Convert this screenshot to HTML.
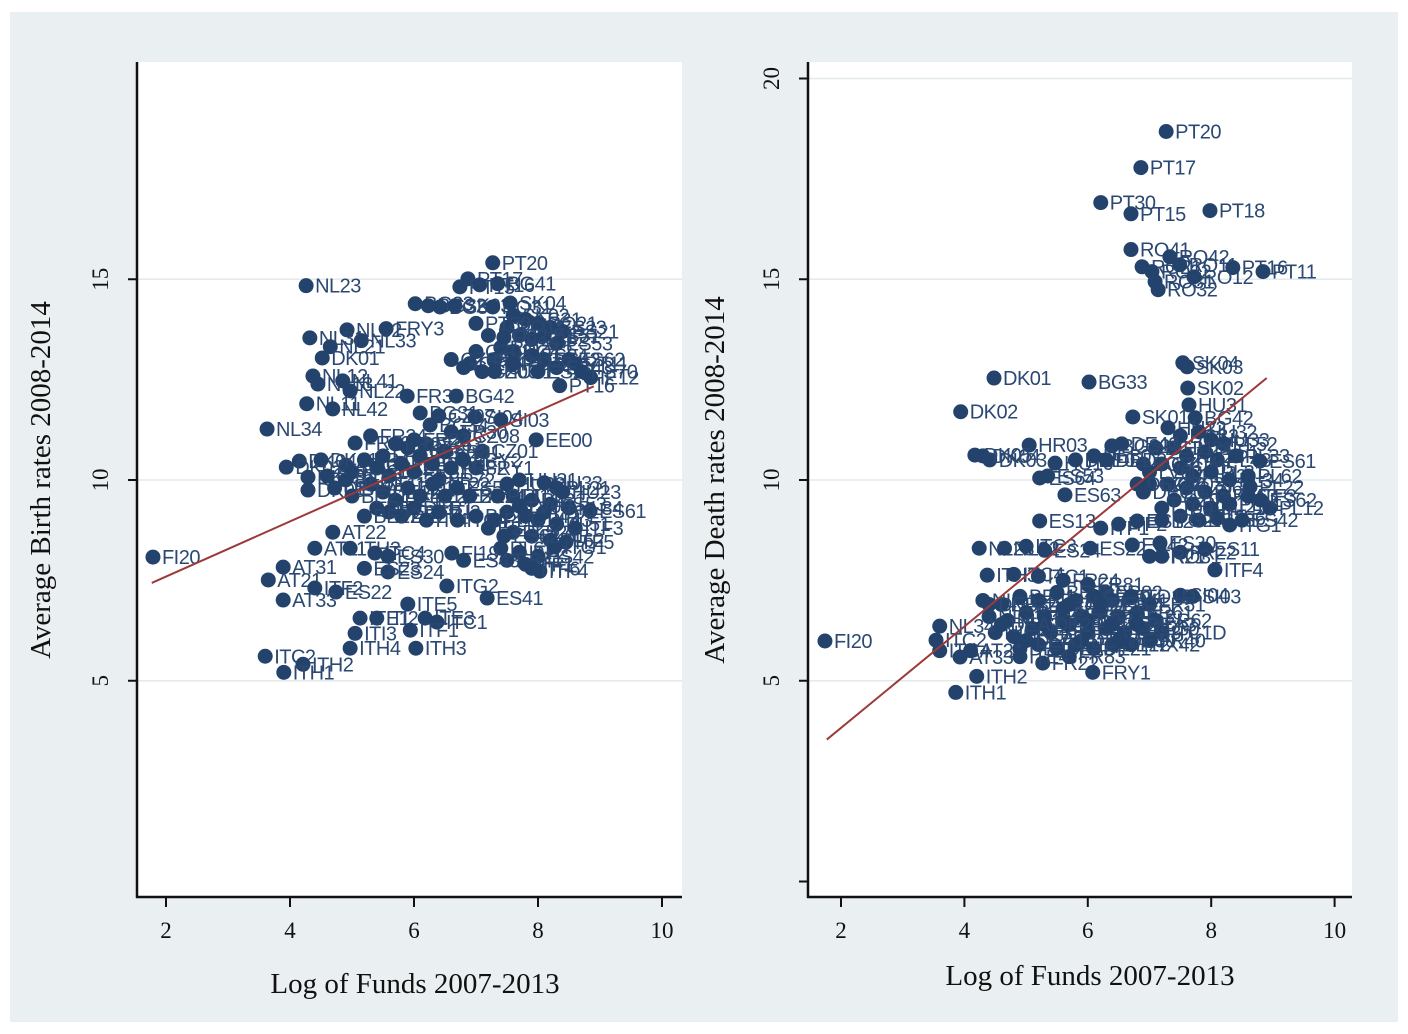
<!DOCTYPE html>
<html><head><meta charset="utf-8"><style>
html,body{margin:0;padding:0;background:#fff;}
svg{display:block;}
.tl{font-family:"Liberation Serif",serif;font-size:23px;fill:#111;}
.ti{font-family:"Liberation Serif",serif;font-size:29px;fill:#111;}
.pl{font-family:"Liberation Sans",sans-serif;font-size:20px;fill:#2a4872;letter-spacing:-0.5px;}
</style></head><body>
<svg id="c" width="1408" height="1034" xmlns="http://www.w3.org/2000/svg">
<rect x="10" y="12" width="1388" height="1010" fill="#eaeff2"/>
<rect x="137" y="62" width="545" height="835" fill="#fff"/>
<rect x="808" y="62" width="544" height="835" fill="#fff"/>
<g id="left"></g>
<g id="right"></g>
<text class="ti" transform="translate(50,480) rotate(-90)" text-anchor="middle">Average Birth rates 2008-2014</text>
<text class="ti" x="415" y="993" text-anchor="middle">Log of Funds 2007-2013</text>
<text class="ti" transform="translate(724,480) rotate(-90)" text-anchor="middle">Average Death rates 2008-2014</text>
<text class="ti" x="1090" y="985" text-anchor="middle">Log of Funds 2007-2013</text>
</svg>
<script>
const xTicks=[2,4,6,8,10];
const leftYTicks=[5,10,15];
const rightYTicks=[0,5,10,15,20];
const rightYTickLabels=["","5","10","15","20"];
const leftFit=[6.22,0.687];
const rightFit=[1.30,1.263];
const fitRange=[1.77,8.9];

const leftX=[1.79,4.26,7.27,6.87,6.74,7.06,7.35,6.02,6.23,6.42,6.66,7.27,7.55,4.92,5.55,
4.32,5.15,4.65,4.52,4.37,4.45,4.85,4.97,5.89,6.68,4.27,4.69,3.63,7.10,
7.6,7.8,8.0,8.2,8.4,7.5,7.7,7.9,8.1,8.3,7.4,7.6,7.9,8.1,8.5,8.6,8.3,7.3,7.0,6.9,6.6,6.8,7.1,7.3,7.6,8.0,8.35,8.85,7.2,7.0,7.45,8.7,
7.97,6.1,6.26,6.98,7.4,6.4,6.6,5.05,4.15,3.94,4.29,4.29,4.9,4.6,4.72,5.0,4.5,5.3,6.8,7.0,
5.2,5.4,5.5,5.6,5.8,5.9,6.0,6.1,6.2,6.3,6.4,6.5,6.6,6.8,5.3,5.5,5.7,5.9,6.1,6.3,6.5,6.7,5.4,5.6,5.8,6.0,6.2,6.4,6.7,5.0,5.2,4.9,6.9,7.0,5.7,6.0,
7.5,7.7,8.1,8.3,7.6,7.9,8.2,8.5,8.84,7.5,7.8,8.0,8.3,8.6,7.6,7.9,8.2,8.45,7.4,7.7,8.0,8.27,7.5,7.8,8.03,7.9,7.35,7.3,7.2,6.61,6.8,7.45,8.1,7.7,8.4,
4.69,4.4,4.97,5.37,5.58,3.89,3.65,4.40,4.74,3.89,5.58,6.53,7.18,5.9,5.13,5.40,6.18,6.37,5.94,5.05,4.97,6.03,3.60,4.21,3.90,5.2];
const leftY=[8.08,14.84,15.41,15.01,14.81,14.86,14.89,14.39,14.34,14.31,14.34,14.31,14.41,13.74,13.77,
13.54,13.47,13.32,13.04,12.59,12.39,12.47,12.22,12.09,12.09,11.9,11.77,11.27,10.72,
14.1,14.0,13.9,13.8,13.7,13.8,13.6,13.5,13.6,13.4,13.3,13.2,13.1,13.0,13.0,12.9,12.8,13.0,13.2,12.9,13.0,12.8,12.7,12.7,12.9,12.7,12.35,12.55,13.6,13.9,13.55,12.7,
11.0,11.67,11.37,11.57,11.5,11.6,11.2,10.92,10.47,10.32,10.07,9.75,10.37,10.1,9.8,10.2,10.5,11.1,11.1,10.3,
10.5,10.3,10.6,10.1,10.4,10.8,10.2,10.6,10.9,10.4,10.0,10.7,10.3,10.5,9.9,9.7,9.5,9.8,9.6,9.9,9.6,9.8,9.3,9.2,9.1,9.3,9.0,9.2,9.0,9.6,9.1,10.0,9.6,9.1,10.9,11.0,
9.9,10.0,9.93,9.8,9.6,9.5,9.4,9.3,9.23,9.2,9.1,9.0,8.9,8.8,8.7,8.6,8.5,8.45,8.3,8.2,8.1,8.33,8.0,7.9,7.73,7.8,9.6,9.0,8.8,8.18,8.0,8.6,9.2,9.35,9.7,
8.70,8.30,8.3,8.18,8.1,7.83,7.51,7.31,7.21,7.01,7.71,7.36,7.06,6.91,6.56,6.56,6.56,6.46,6.26,6.18,5.81,5.81,5.61,5.41,5.21,7.8];
const leftLab=["FI20","NL23","PT20","PT17","PT15","PT16","BG41","BG33","BG32","BG30","SK03","RO31","SK04","NL32","FRY3",
"NL31","NL33","NL21","DK01","NL12","NL13","NL41","NL22","FR30","BG42","NL11","NL42","NL34","CZ01",
"SK02","ES31","RO21","ES23","ES21","RO11","SK01","ES52","ES51","ES53","RO22","RO12","ES24","ES42","ES62","PT11","ES43","RO41","CZ02","CZ04","CZ03","CZ05","CZ06","HU21","RO42","ES22","PT16","IE12","RO32","PT30","PL32","ES70",
"EE00","BG31","BG34","SI04","SI03","CZ07","FR30","FR10","DK04","DK02","DK03","DK05","AT13","DE50","DEA1","FR21","DK01","FR24","CZ08","FRY1",
"FR41","FR42","FR43","FR51","FR52","FR53","FR61","FR62","FR63","FR71","FR72","FR81","FR82","FRY2","DE11","DE12","DE13","DE14","DE21","DE22","DE23","ES52","DE25","DE26","DE27","DEB1","ITI4","ITI2","ITC4","BE21","BE22","BE23","BE24","BE25","FR22","FR23",
"HU32","HU31","HU33","PL21","PL22","PL31","ES53","PL34","ES61","PL41","PL42","PL43","PL51","ITF3","PL52","PL61","PL62","ITF5","PL63","ITF2","ES42","ITG1","ES41","ITF1","ITF4","ITF6","PL11","PL12","ES12","FI19","ES43","ES62","LT00","LV00","HU23",
"AT22","AT11","ITH3","ITC4","ES30","AT31","AT21","ITF2","ES22","AT33","ES24","ITG2","ES41","ITE5","ITE1","ITI2","ITE3","ITC1","ITF1","ITI3","ITH4","ITH3","ITC2","ITH2","ITH1","ES23"];

const rightX=[1.74,7.27,6.86,6.21,6.70,7.98,6.70,6.88,7.04,7.33,7.49,7.09,7.14,7.72,8.35,8.84,
7.54,7.61,7.62,4.48,6.02,3.94,6.73,7.64,7.74,
7.3,7.5,7.8,8.0,8.2,7.4,7.6,7.9,8.1,8.4,8.79,7.2,7.5,7.7,8.0,8.3,8.6,7.3,7.6,7.9,8.2,8.63,7.4,7.7,8.0,8.3,8.95,7.5,7.8,8.1,8.3,8.5,7.0,6.9,7.1,7.0,8.6,8.8,7.2,
5.05,6.39,6.55,4.17,4.41,4.30,5.47,5.8,6.1,6.3,5.63,5.22,5.35,6.8,6.9,5.22,6.21,6.5,6.80,7.2,
4.24,4.65,5.0,5.3,6.04,6.72,7.17,7.0,7.5,7.9,8.06,7.2,4.37,4.8,5.2,5.6,6.0,6.3,7.5,7.7,
4.3,4.6,4.9,5.2,5.5,5.8,6.1,6.4,6.7,7.0,
4.4,4.7,5.0,5.3,5.6,5.9,6.2,6.5,6.8,7.1,
4.5,4.8,5.1,5.4,5.7,6.0,6.3,6.6,6.9,7.2,
4.9,5.2,5.5,5.8,6.1,6.4,6.7,7.0,5.6,6.0,
6.4,5.3,5.9,6.5,5.0,4.6,6.8,5.7,6.2,4.4,
3.6,3.54,3.6,3.93,4.1,4.20,3.86,5.27,6.08,5.7,4.9];
const rightY=[5.99,18.68,17.78,16.91,16.63,16.71,15.74,15.31,15.19,15.56,15.36,14.94,14.74,15.06,15.29,15.19,
12.92,12.82,12.29,12.54,12.44,11.70,11.57,11.87,11.55,
11.3,11.1,11.2,11.0,10.9,10.8,10.6,10.7,10.5,10.6,10.47,10.4,10.3,10.1,10.2,10.0,10.1,9.9,9.8,9.7,9.6,9.83,9.5,9.4,9.3,9.4,9.30,9.1,9.0,9.05,8.88,9.0,9.9,10.4,10.8,10.2,9.6,9.5,9.3,
10.87,10.85,10.9,10.62,10.5,10.6,10.42,10.5,10.6,10.5,9.63,10.05,10.1,9.9,9.7,8.98,8.80,8.9,8.98,9.0,
8.30,8.3,8.35,8.25,8.3,8.38,8.43,8.1,8.2,8.28,7.76,8.1,7.63,7.65,7.6,7.5,7.4,7.2,7.13,7.1,
7.0,6.9,7.1,7.0,7.2,7.0,7.1,7.0,7.1,6.9,
6.6,6.5,6.7,6.6,6.8,6.6,6.7,6.6,6.7,6.5,
6.2,6.1,6.3,6.2,6.4,6.2,6.3,6.2,6.3,6.2,
5.8,5.9,5.8,5.9,5.8,5.9,5.9,6.0,6.5,6.5,
6.4,6.4,6.0,6.0,6.0,6.4,6.4,6.9,6.9,6.9,
6.36,6.01,5.75,5.59,5.75,5.11,4.71,5.44,5.21,5.6,5.6];
const rightLab=["FI20","PT20","PT17","PT30","PT15","PT18","RO41","RO21","RO22","RO42","RO11","RO31","RO32","RO12","PT16","PT11",
"SK04","SK03","SK02","DK01","BG33","DK02","SK01","HU31","BG42",
"HU22","BG32","HU32","HU33","PL52","HU21","HU23","PL51","PL43","PL33","ES61","CZ04","CZ05","PL42","PL31","PL34","PL62","CZ03","CZ06","PL41","PL63","PL22","CZ07","PL61","PL21","PL11","PL12","ES21","ES43","ITF6","ITG1","ES42","CZ02","BG34","BG31","LV00","ITF3","ES62","LT00",
"HR03","BG32","DE40","DK05","DK03","DK04","HU10","DEE0","DE80","DED2","ES63","ES64","ES53","DEG0","DEC0","ES13","ITF1","ITF2","ES12","ITG2",
"NL23","NL32","ITC3","ES24","ES22","ES42","ES30","FR21","FR22","ES11","ITF4","RO31","ITH3","ITC4","ITC1","FR24","FR81","FR82","SI04","SI03",
"NL41","NL42","BE21","BE22","BE23","FR10","FR30","FR41","ITD1D","FR51",
"NL31","NL33","BE24","BE25","FR42","FR43","FR52","FR53","FR61","FR62",
"NL34","NL22","BE31","BE32","FR63","FR71","FR72","FR83","FR30","ITC1D",
"DE11","DE12","DE13","DE14","DE21","DE22","FRX42","FR40","DE23","DE24",
"DE25","DE26","DE27","DE30","DEA1","DEA2","DEA3","DEB1","DEB2","DEB3",
"NL34","ITC2","ITC4","AT33","AT21","ITH2","ITH1","FR22","FRY1","FR83","ITE4"];

const NS="http://www.w3.org/2000/svg";
function mk(tag,attrs,parent){const e=document.createElementNS(NS,tag);for(const k in attrs)e.setAttribute(k,attrs[k]);parent.appendChild(e);return e;}

function panel(gid,x0,xs,xsArr,ysArr,labs,yTicks,yLabs,fit,right){
  const g=document.getElementById(gid);
  const sx=v=>x0+(v-2)*xs;
  const sy=v=>480-(v-10)*40.15;
  const axL=right?808:137, axR=right?1352:682;
  yTicks.forEach((t,i)=>{
    if(t>0){const gl=mk('line',{x1:axL,x2:axR,y1:sy(t),y2:sy(t),stroke:'#e2eaee','stroke-width':1.5},g);
    
    }
    const tk=mk('line',{x1:axL-9,x2:axL,y1:sy(t),y2:sy(t),stroke:'#111','stroke-width':2},g);
    
    
    const lab=yLabs[i];
    if(lab){const tx=mk('text',{class:'tl',transform:`translate(${axL-29},${sy(t)}) rotate(-90)`,'text-anchor':'middle'},g);
    tx.textContent=lab;
    
    }
  });
  xTicks.forEach(t=>{
    const tk=mk('line',{x1:sx(t),x2:sx(t),y1:897,y2:907,stroke:'#111','stroke-width':2},g);
    
    
    const tx=mk('text',{class:'tl',x:sx(t),y:938,'text-anchor':'middle'},g);
    tx.textContent=String(t);
    
    
  });
  const ay=mk('line',{x1:axL,x2:axL,y1:62,y2:898,stroke:'#111','stroke-width':2.5},g);
  
  
  const ax=mk('line',{x1:axL-1,x2:axR,y1:897,y2:897,stroke:'#111','stroke-width':2.5},g);
  
  
  const pts=mk('g',{},g);
  
  
  for(let i=0;i<xsArr.length;i++){
    const cx=sx(xsArr[i]),cy=sy(ysArr[i]);
    const c=mk('circle',{cx:cx,cy:cy,r:7.5,fill:'#24436c'},pts);
    
    
    const t=mk('text',{class:'pl',x:cx+9,y:cy+7},pts);
    t.textContent=labs[i];
    
    
  }
  const l=mk('line',{x1:sx(fitRange[0]),y1:sy(fit[0]+fit[1]*fitRange[0]),x2:sx(fitRange[1]),y2:sy(fit[0]+fit[1]*fitRange[1]),stroke:'#9c3a3a','stroke-width':2},g);
  
  
}
panel('left',166,62,leftX,leftY,leftLab,leftYTicks,leftYTicks.map(String),leftFit,false);
panel('right',841,61.7,rightX,rightY,rightLab,rightYTicks,rightYTickLabels,rightFit,true);
</script>
</body></html>
